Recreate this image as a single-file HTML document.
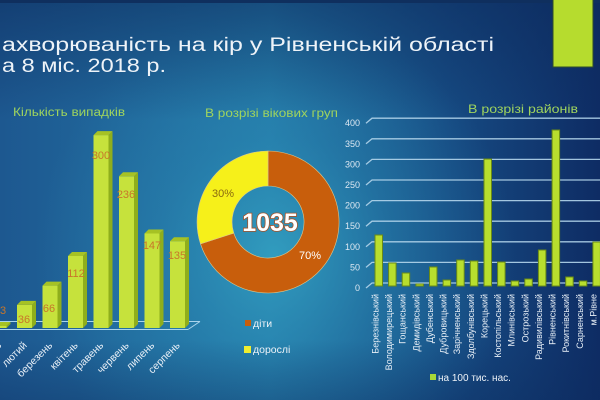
<!DOCTYPE html>
<html><head><meta charset="utf-8"><style>
html,body{margin:0;padding:0;background:#1c5590;}
svg{display:block;}
text{font-family:"Liberation Sans",sans-serif;}
</style></head><body>
<svg width="600" height="400" viewBox="0 0 600 400" xmlns="http://www.w3.org/2000/svg">
<defs>
<linearGradient id="bgh" x1="0" y1="0" x2="1" y2="0">
<stop offset="0" stop-color="#1d5890"/>
<stop offset="0.45" stop-color="#2479a8"/>
<stop offset="0.75" stop-color="#164a82"/>
<stop offset="1" stop-color="#0e2c64"/>
</linearGradient>
<radialGradient id="glow" cx="275" cy="255" r="240" gradientUnits="userSpaceOnUse">
<stop offset="0" stop-color="#36a8c6" stop-opacity="0.75"/>
<stop offset="0.5" stop-color="#2c90b8" stop-opacity="0.35"/>
<stop offset="1" stop-color="#2c90b8" stop-opacity="0"/>
</radialGradient>
<linearGradient id="bgv" x1="0" y1="0" x2="0" y2="1">
<stop offset="0" stop-color="#0c2a5c" stop-opacity="0.55"/>
<stop offset="0.3" stop-color="#0c2a5c" stop-opacity="0"/>
<stop offset="0.85" stop-color="#0c2a5c" stop-opacity="0"/>
<stop offset="1" stop-color="#0c2a5c" stop-opacity="0.35"/>
</linearGradient>
</defs>
<rect width="600" height="400" fill="url(#bgh)"/>
<rect width="600" height="400" fill="url(#glow)"/>
<rect width="600" height="400" fill="url(#bgv)"/>
<rect x="0" y="0" width="600" height="3" fill="#0f2f5e"/>

<!-- top right green rect -->
<rect x="553" y="-2" width="40" height="69" fill="#b6dc2e" stroke="#2f4d2a" stroke-width="1"/>

<!-- main title -->
<text x="2" y="51" font-size="19" fill="#eef3f8" textLength="492" lengthAdjust="spacingAndGlyphs">ахворюваність на кір у Рівненській області</text>
<text x="2" y="72" font-size="19" fill="#eef3f8" textLength="164" lengthAdjust="spacingAndGlyphs">а 8 міс. 2018 р.</text>

<!-- LEFT CHART -->
<text x="13" y="116" font-size="11.5" fill="#9fd45e" textLength="112" lengthAdjust="spacingAndGlyphs">Кількість випадків</text>
<!-- floor -->
<g stroke="#a8d4ec" stroke-width="1" fill="none">
<line x1="0" y1="321.5" x2="200" y2="321.5"/>
<line x1="0" y1="329.5" x2="188" y2="329.5"/>
<line x1="188" y1="329.5" x2="200" y2="321.5"/>
</g>
<g id="bars3d">
<rect x="-8.5" y="326" width="15" height="2" fill="#c6e23c"/>
<polygon points="6.5,326 10.5,322 10.5,324 6.5,328" fill="#8fae1c"/>
<polygon points="-8.5,326 -4.5,322 10.5,322 6.5,326" fill="#a6c224"/>
<rect x="17" y="304.9" width="15" height="23.1" fill="#c6e23c"/>
<polygon points="32,304.9 36,300.9 36,324 32,328" fill="#8fae1c"/>
<polygon points="17,304.9 21,300.9 36,300.9 32,304.9" fill="#a6c224"/>
<rect x="42.5" y="285.6" width="15" height="42.4" fill="#c6e23c"/>
<polygon points="57.5,285.6 61.5,281.6 61.5,324 57.5,328" fill="#8fae1c"/>
<polygon points="42.5,285.6 46.5,281.6 61.5,281.6 57.5,285.6" fill="#a6c224"/>
<rect x="68" y="256" width="15" height="72" fill="#c6e23c"/>
<polygon points="83,256 87,252 87,324 83,328" fill="#8fae1c"/>
<polygon points="68,256 72,252 87,252 83,256" fill="#a6c224"/>
<rect x="93.5" y="135.1" width="15" height="192.9" fill="#c6e23c"/>
<polygon points="108.5,135.1 112.5,131.1 112.5,324 108.5,328" fill="#8fae1c"/>
<polygon points="93.5,135.1 97.5,131.1 112.5,131.1 108.5,135.1" fill="#a6c224"/>
<rect x="119" y="176.3" width="15" height="151.7" fill="#c6e23c"/>
<polygon points="134,176.3 138,172.3 138,324 134,328" fill="#8fae1c"/>
<polygon points="119,176.3 123,172.3 138,172.3 134,176.3" fill="#a6c224"/>
<rect x="144.5" y="233.5" width="15" height="94.5" fill="#c6e23c"/>
<polygon points="159.5,233.5 163.5,229.5 163.5,324 159.5,328" fill="#8fae1c"/>
<polygon points="144.5,233.5 148.5,229.5 163.5,229.5 159.5,233.5" fill="#a6c224"/>
<rect x="170" y="241.2" width="15" height="86.8" fill="#c6e23c"/>
<polygon points="185,241.2 189,237.2 189,324 185,328" fill="#8fae1c"/>
<polygon points="170,241.2 174,237.2 189,237.2 185,241.2" fill="#a6c224"/>
</g>
<g font-size="11" fill="#c8762a" text-anchor="middle">
<text x="3" y="314">3</text>
<text x="24" y="323">36</text>
<text x="49" y="312">66</text>
<text x="76" y="277">112</text>
<text x="101" y="159">300</text>
<text x="126" y="198">236</text>
<text x="152" y="249">147</text>
<text x="177" y="259">135</text>
</g>
<g font-size="10.5" fill="#e6eef6" text-anchor="end">
<text transform="translate(2,346) rotate(-45)">січень</text>
<text transform="translate(27.5,346) rotate(-45)">лютий</text>
<text transform="translate(53,346) rotate(-45)">березень</text>
<text transform="translate(78.5,346) rotate(-45)">квітень</text>
<text transform="translate(104,346) rotate(-45)">травень</text>
<text transform="translate(129.5,346) rotate(-45)">червень</text>
<text transform="translate(155,346) rotate(-45)">липень</text>
<text transform="translate(180.5,346) rotate(-45)">серпень</text>
</g>

<!-- MIDDLE DONUT -->
<text x="205" y="117" font-size="12" fill="#9fd45e" textLength="133" lengthAdjust="spacingAndGlyphs">В розрізі вікових груп</text>
<path d="M268,151 A71,71 0 1,1 200.5,243.9 L233.8,233.1 A36,36 0 1,0 268,186 Z" fill="#c85e0c" stroke="#d8c890" stroke-width="0.6"/>
<path d="M200.5,243.9 A71,71 0 0,1 268,151 L268,186 A36,36 0 0,0 233.8,233.1 Z" fill="#f6f01a" stroke="#d8c890" stroke-width="0.6"/>
<text x="270" y="231" font-size="25" font-weight="bold" fill="#ffffff" stroke="#a4532a" stroke-width="1.6" paint-order="stroke" text-anchor="middle">1035</text>
<text x="223" y="197" font-size="11" fill="#8a6a10" text-anchor="middle">30%</text>
<text x="310" y="259" font-size="11" fill="#ffffff" text-anchor="middle">70%</text>
<rect x="245" y="320" width="6" height="6" fill="#c85e0c"/>
<text x="253" y="327" font-size="10.5" fill="#eef3f8">діти</text>
<rect x="244" y="346" width="7" height="7" fill="#f0ee30"/>
<text x="253" y="353" font-size="10.5" fill="#eef3f8">дорослі</text>

<!-- RIGHT CHART -->
<text x="468" y="113" font-size="12" fill="#9fd45e" textLength="110" lengthAdjust="spacingAndGlyphs">В розрізі районів</text>
<g stroke="#b4d6ec" stroke-width="1.3" fill="none" opacity="0.9">
<polyline points="366,288 372,283 600,283"/>
<polyline points="366,267.4 372,262.4 600,262.4"/>
<polyline points="366,246.8 372,241.8 600,241.8"/>
<polyline points="366,226.2 372,221.2 600,221.2"/>
<polyline points="366,205.6 372,200.6 600,200.6"/>
<polyline points="366,185 372,180 600,180"/>
<polyline points="366,164.4 372,159.4 600,159.4"/>
<polyline points="366,143.8 372,138.8 600,138.8"/>
<polyline points="366,123.2 372,118.2 600,118.2"/>
</g>
<g font-size="9" fill="#dce8f2" text-anchor="end">
<text x="360" y="291">0</text>
<text x="360" y="270.4">50</text>
<text x="360" y="249.8">100</text>
<text x="360" y="229.2">150</text>
<text x="360" y="208.6">200</text>
<text x="360" y="188">250</text>
<text x="360" y="167.4">300</text>
<text x="360" y="146.8">350</text>
<text x="360" y="126.2">400</text>
</g>
<g fill="#b8de2e" stroke="#6a8a16" stroke-width="1">
<rect x="375" y="235" width="7.5" height="51"/>
<rect x="388.6" y="263" width="7.5" height="23"/>
<rect x="402.2" y="273" width="7.5" height="13"/>
<rect x="415.9" y="284" width="7.5" height="2"/>
<rect x="429.5" y="267" width="7.5" height="19"/>
<rect x="443.1" y="280" width="7.5" height="6"/>
<rect x="456.7" y="260" width="7.5" height="26"/>
<rect x="470.3" y="261" width="7.5" height="25"/>
<rect x="484" y="159" width="7.5" height="127"/>
<rect x="497.6" y="262" width="7.5" height="24"/>
<rect x="511.2" y="281" width="7.5" height="5"/>
<rect x="524.8" y="279" width="7.5" height="7"/>
<rect x="538.4" y="250" width="7.5" height="36"/>
<rect x="552.1" y="130" width="7.5" height="156"/>
<rect x="565.7" y="277" width="7.5" height="9"/>
<rect x="579.3" y="281" width="7.5" height="5"/>
<rect x="592.9" y="242" width="7.5" height="44"/>
</g>
<g font-size="9" fill="#e6eef6" text-anchor="end">
<text transform="translate(378.5,294) rotate(-90)">Березнівський</text>
<text transform="translate(392.1,294) rotate(-90)">Володимирецький</text>
<text transform="translate(405.7,294) rotate(-90)">Гощанський</text>
<text transform="translate(419.4,294) rotate(-90)">Демидівський</text>
<text transform="translate(433,294) rotate(-90)">Дубенський</text>
<text transform="translate(446.6,294) rotate(-90)">Дубровицький</text>
<text transform="translate(460.2,294) rotate(-90)">Зарічненський</text>
<text transform="translate(473.8,294) rotate(-90)">Здолбунівський</text>
<text transform="translate(487.5,294) rotate(-90)">Корецький</text>
<text transform="translate(501.1,294) rotate(-90)">Костопільський</text>
<text transform="translate(514.7,294) rotate(-90)">Млинівський</text>
<text transform="translate(528.3,294) rotate(-90)">Острозький</text>
<text transform="translate(541.9,294) rotate(-90)">Радивилівський</text>
<text transform="translate(555.6,294) rotate(-90)">Рівненський</text>
<text transform="translate(569.2,294) rotate(-90)">Рокитнівський</text>
<text transform="translate(582.8,294) rotate(-90)">Сарненський</text>
<text transform="translate(596.4,294) rotate(-90)">м.Рівне</text>
</g>
<rect x="430" y="374" width="6" height="6" fill="#a8d838"/>
<text x="438" y="381" font-size="10" fill="#eef3f8">на 100 тис. нас.</text>
</svg>
</body></html>
